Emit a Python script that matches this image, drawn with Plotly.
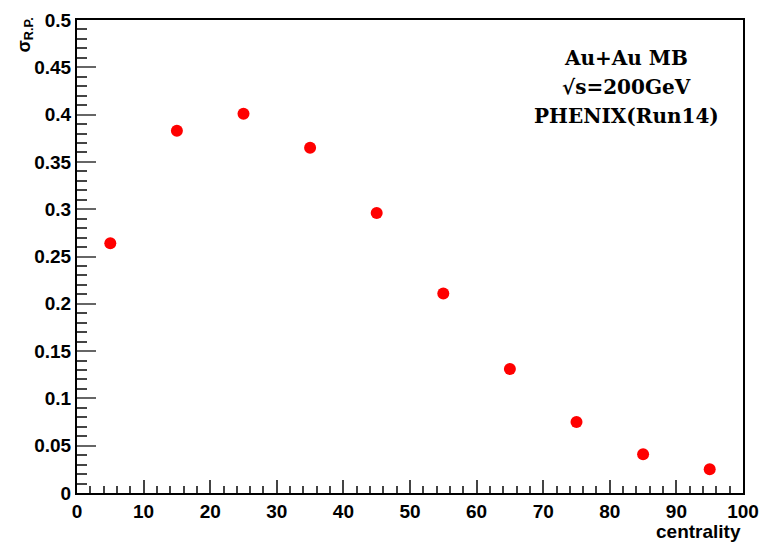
import plotly.graph_objects as go

# centrality bin centres (%) and reaction-plane resolution
centrality = [5, 15, 25, 35, 45, 55, 65, 75, 85, 95]
sigma_rp = [0.264, 0.383, 0.401, 0.365, 0.296, 0.211, 0.131, 0.075, 0.041, 0.025]

x_ticks = [0, 10, 20, 30, 40, 50, 60, 70, 80, 90, 100]
y_ticks = [0, 0.05, 0.1, 0.15, 0.2, 0.25, 0.3, 0.35, 0.4, 0.45, 0.5]
y_tick_text = ["0", "0.05", "0.1", "0.15", "0.2", "0.25", "0.3", "0.35", "0.4", "0.45", "0.5"]

label_lines = ["Au+Au MB", "√s=200GeV", "PHENIX(Run14)"]

tick_font = dict(family="Liberation Sans", size=19, color="black", weight="bold")

fig = go.Figure()
fig.add_trace(go.Scatter(
    x=centrality, y=sigma_rp, mode="markers",
    marker=dict(color="#ff0000", size=12, line=dict(width=0)),
    showlegend=False,
))

fig.update_layout(
    width=763, height=545,
    margin=dict(l=77, r=20, t=20, b=52, autoexpand=False),
    paper_bgcolor="white", plot_bgcolor="white",
    xaxis=dict(
        range=[0, 100], tickvals=x_ticks, ticktext=[str(v) for v in x_ticks],
        ticks="inside", ticklen=13, tickwidth=1.5, tickcolor="#444",
        minor=dict(dtick=2, ticks="inside", ticklen=7, tickwidth=1.5, tickcolor="#444"),
        showline=True, linecolor="black", linewidth=2, mirror=True,
        showgrid=False, zeroline=False, automargin=False,
        tickfont=tick_font,
    ),
    yaxis=dict(
        range=[0, 0.5], tickvals=y_ticks, ticktext=y_tick_text,
        ticks="inside", ticklen=19, tickwidth=1.5, tickcolor="#666",
        minor=dict(dtick=0.01, ticks="inside", ticklen=10, tickwidth=1.5, tickcolor="#444"),
        showline=True, linecolor="black", linewidth=2, mirror=True,
        showgrid=False, zeroline=False, automargin=False,
        tickfont=tick_font,
    ),
)

# axis titles in the corners
fig.add_annotation(
    text="centrality", xref="paper", yref="paper", x=1.0, y=0,
    xanchor="right", yanchor="top", yshift=-26, showarrow=False,
    font=dict(family="Liberation Sans", size=19, color="black", weight="bold"),
)
fig.add_annotation(
    text="σ<sub>R.P.</sub>", xref="paper", yref="paper", x=0, y=1.0,
    xanchor="center", yanchor="top", xshift=-52, yshift=4, textangle=-90,
    showarrow=False,
    font=dict(family="Liberation Sans", size=18, color="black", weight="bold"),
)

# dataset description
for i, line in enumerate(label_lines):
    fig.add_annotation(
        text=line, xref="paper", yref="paper",
        x=0.825, y=0.92 - i * 0.061, xanchor="center", yanchor="middle",
        showarrow=False,
        font=dict(family="DejaVu Serif", size=20, color="black", weight="bold"),
    )

fig.write_html("out.html")
